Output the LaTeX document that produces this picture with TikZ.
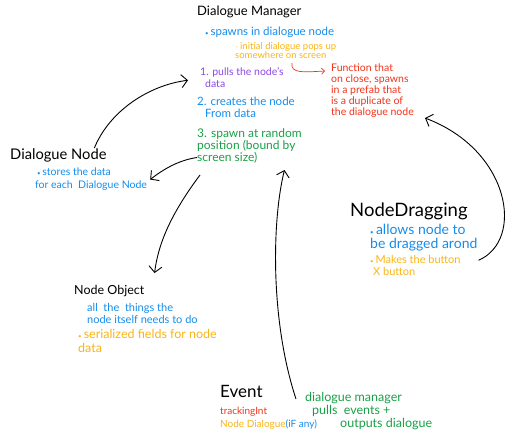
\documentclass[tikz,border=0pt]{standalone}
\usepackage{fontspec}
\setmainfont{Lato}
\usetikzlibrary{arrows.meta}
\definecolor{penblue}{RGB}{20,140,235}
\definecolor{penorange}{RGB}{250,180,20}
\definecolor{penred}{RGB}{240,50,25}
\definecolor{pengreen}{RGB}{25,160,70}
\definecolor{penpurple}{RGB}{140,70,230}
\newcommand{\dotmark}{{\fontsize{6}{6}\selectfont\textbullet}\,}

\begin{document}
\begin{tikzpicture}[x=1pt, y=-1pt,
	title/.style={anchor=north west, inner sep=0pt, font=\fontsize{13}{15}\selectfont},
	note/.style={anchor=north west, inner sep=0pt, align=left, font=\fontsize{10.5}{12}\selectfont},
	arr/.style={line width=0.9pt, -{Straight Barb[length=6pt,width=13pt]}}]
	\useasboundingbox (0,0) rectangle (516,445);
	\node[title] (mgr) at (197,6) {Dialogue Manager};
	\node[note, penblue, font=\fontsize{11.5}{12}\selectfont] (spawn) at (205,27) {\dotmark spawns in dialogue node};
	\node[note, penorange, font=\fontsize{9.5}{9.5}\selectfont] (initial) at (235,42) {$\cdot$ initial dialogue pops up\\somewhere on screen};
	\node[note, penred, font=\fontsize{10.5}{11}\selectfont] (fn) at (331,64) {Function that\\on close, spawns\\in a prefab that\\is a duplicate of\\the dialogue node};
	\node[note, penpurple] (s1) at (200,67) {1. pulls the node's\\\hspace*{5pt}data};
	\node[note, penblue, font=\fontsize{11.5}{12}\selectfont] (s2) at (197,97) {2. creates the node\\\hspace*{8pt}From data};
	\node[note, pengreen, font=\fontsize{12}{12}\selectfont] (s3) at (197,128) {3. spawn at random\\position (bound by\\screen size)};
	\node[title, font=\fontsize{14.7}{16}\selectfont] (dnode) at (10,148) {Dialogue Node};
	\node[note, penblue, font=\fontsize{10.5}{13}\selectfont] (store) at (35,168) {\hspace*{2pt}\dotmark stores the data\\for each\ \ Dialogue Node};
	\node[title, font=\fontsize{18.5}{20}\selectfont] (drag) at (350,203) {NodeDragging};
	\node[note, penblue, font=\fontsize{14}{14}\selectfont] (allows) at (370,224) {\dotmark allows node to\\be dragged arond};
	\node[note, penorange, font=\fontsize{11}{12}\selectfont] (makes) at (370,255) {\dotmark Makes the button\\\hspace*{3pt}X button};
	\node[title, font=\fontsize{12.5}{14}\selectfont] (obj) at (74,285) {Node Object};
	\node[note, penblue, font=\fontsize{11}{12}\selectfont] (things) at (87,303) {all\ \ the\ \ things the\\node itself needs to do};
	\node[note, penorange, font=\fontsize{12.5}{14}\selectfont] (serial) at (78,329) {\dotmark serialized fields for node\\data};
	\node[title, font=\fontsize{17}{19}\selectfont] (event) at (220,385) {Event};
	\node[note, penred, font=\fontsize{10}{10}\selectfont] (track) at (220,407) {trackingInt};
	\node[note, font=\fontsize{10}{10}\selectfont] (nd) at (220,420) {\textcolor{penorange}{Node Dialogue}\textcolor{penblue}{(iF any)}};
	\node[note, pengreen, font=\fontsize{12.5}{13}\selectfont] (pulls) at (305,392) {dialogue manager\\\hspace*{7pt}pulls\ \ events +\\\hspace*{35pt}outputs dialogue};
	\draw[arr] ([xshift=36pt]dnode.north) .. controls (110,110) and (150,85) .. ([xshift=-12pt,yshift=-3pt]s1.west);
	\draw[arr] ([yshift=-12pt]s3.west) .. controls (180,160) and (165,168) .. ([xshift=3pt]store.east);
	\draw[arr] ([xshift=3pt,yshift=-12pt]s3.south west) .. controls (170,215) and (158,245) .. ([xshift=10pt,yshift=12pt]obj.north east);
	\draw[arr] ([xshift=-9pt,yshift=-7pt]pulls.north west) .. controls (270,320) and (272,220) .. ([xshift=35pt,yshift=-7pt]s3.south);
	\draw[arr] ([xshift=1pt,yshift=-9pt]allows.south east) .. controls (525,240) and (510,150) .. ([xshift=11pt]fn.south east);
	\draw[penred, line width=0.7pt, -{Straight Barb[length=3pt,width=6pt]}] ([xshift=57pt,yshift=-4pt]initial.south west) .. controls (290,74) and (305,72) .. ([xshift=-6pt,yshift=-7pt]fn.north west);
\end{tikzpicture}
\end{document}
